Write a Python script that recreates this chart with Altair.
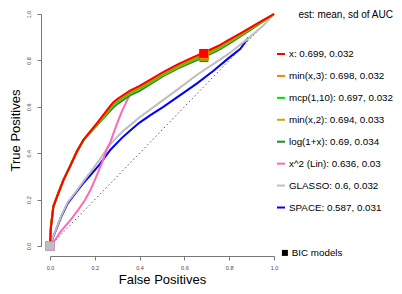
import altair as alt
import pandas as pd

# ---- data ----
methods = [
    "x: 0.699, 0.032",
    "min(x,3): 0.698, 0.032",
    "mcp(1,10): 0.697, 0.032",
    "min(x,2): 0.694, 0.033",
    "log(1+x): 0.69, 0.034",
    "x^2 (Lin): 0.636, 0.03",
    "GLASSO: 0.6, 0.032",
    "SPACE: 0.587, 0.031",
]
colors = ["#FF0000", "#FF8000", "#00E000", "#CDAA00", "#228B22", "#FF69B4", "#BEBEBE", "#0000FF"]

# shared FPR grid for the five top curves
fpr_top = [0, 0.004, 0.015, 0.037, 0.06, 0.089, 0.119, 0.149, 0.179, 0.21, 0.238, 0.262, 0.283, 0.305,
           0.327, 0.357, 0.40, 0.45, 0.505, 0.57, 0.63, 0.69, 0.75, 0.8, 0.85, 0.9, 0.95, 1.0]
tpr_x = [0, 0.08, 0.17, 0.227, 0.284, 0.342, 0.405, 0.457, 0.493, 0.53, 0.565, 0.595, 0.62, 0.637,
         0.651, 0.67, 0.69, 0.718, 0.75, 0.783, 0.81, 0.835, 0.862, 0.89, 0.917, 0.945, 0.972, 1.0]
tpr_min3 = [0, 0.08, 0.17, 0.227, 0.284, 0.342, 0.405, 0.457, 0.492, 0.528, 0.562, 0.591, 0.616, 0.633,
            0.647, 0.666, 0.686, 0.714, 0.746, 0.779, 0.806, 0.831, 0.858, 0.886, 0.914, 0.943, 0.971, 1.0]
tpr_mcp = [0, 0.08, 0.17, 0.227, 0.284, 0.342, 0.405, 0.457, 0.491, 0.526, 0.558, 0.586, 0.611, 0.628,
           0.642, 0.661, 0.681, 0.709, 0.741, 0.774, 0.801, 0.826, 0.854, 0.883, 0.911, 0.941, 0.970, 1.0]
tpr_min2 = [0, 0.08, 0.17, 0.227, 0.284, 0.342, 0.405, 0.456, 0.49, 0.524, 0.555, 0.582, 0.607, 0.624,
            0.638, 0.657, 0.677, 0.705, 0.737, 0.77, 0.797, 0.822, 0.85, 0.879, 0.908, 0.939, 0.969, 1.0]
tpr_log = [0, 0.082, 0.172, 0.229, 0.286, 0.344, 0.406, 0.456, 0.488, 0.52, 0.55, 0.575, 0.598, 0.615,
           0.63, 0.649, 0.669, 0.699, 0.732, 0.765, 0.791, 0.815, 0.843, 0.872, 0.903, 0.935, 0.967, 1.0]

fpr_sq = [0, 0.022, 0.05, 0.09, 0.125, 0.156, 0.18, 0.2, 0.22, 0.237, 0.254, 0.268, 0.285, 0.30, 0.32, 0.34, 0.357]
tpr_sq = [0, 0.026, 0.065, 0.11, 0.155, 0.198, 0.24, 0.284, 0.33, 0.37, 0.42, 0.444, 0.49, 0.53, 0.578, 0.62, 0.652]

fpr_gl = [0, 0.01, 0.03, 0.05, 0.08, 0.12, 0.15, 0.19, 0.22, 0.27, 0.32, 0.357, 0.40, 0.45, 0.506, 0.57,
          0.655, 0.73, 0.80, 0.885, 0.95, 1.0]
tpr_gl = [0, 0.03, 0.08, 0.13, 0.19, 0.24, 0.28, 0.33, 0.37, 0.44, 0.49, 0.52, 0.555, 0.59, 0.63, 0.675,
          0.737, 0.785, 0.83, 0.895, 0.948, 1.0]

fpr_sp = [0, 0.01, 0.03, 0.05, 0.08, 0.12, 0.15, 0.18, 0.22, 0.27, 0.32, 0.357, 0.40, 0.45, 0.506, 0.57,
          0.655, 0.73, 0.80, 0.85, 0.885]
tpr_sp = [0, 0.028, 0.077, 0.126, 0.185, 0.235, 0.272, 0.305, 0.35, 0.415, 0.465, 0.497, 0.532, 0.565,
          0.6, 0.643, 0.7, 0.755, 0.812, 0.85, 0.898]

# BIC-selected models (drawn bottom to top)
bic_method = ["SPACE: 0.587, 0.031", "x^2 (Lin): 0.636, 0.03", "GLASSO: 0.6, 0.032",
              "log(1+x): 0.69, 0.034", "min(x,2): 0.694, 0.033", "mcp(1,10): 0.697, 0.032",
              "min(x,3): 0.698, 0.032", "x: 0.699, 0.032"]
bic_fpr = [0, 0, 0, 0.687, 0.688, 0.688, 0.689, 0.686]
bic_tpr = [0, 0, 0, 0.812, 0.818, 0.822, 0.826, 0.83]

diag_fpr = [0, 1]
diag_tpr = [0, 1]

legend_title = "est: mean, sd of AUC"

# ---- build tables ----
curves = {
    methods[0]: (fpr_top, tpr_x),
    methods[1]: (fpr_top, tpr_min3),
    methods[2]: (fpr_top, tpr_mcp),
    methods[3]: (fpr_top, tpr_min2),
    methods[4]: (fpr_top, tpr_log),
    methods[5]: (fpr_sq, tpr_sq),
    methods[6]: (fpr_gl, tpr_gl),
    methods[7]: (fpr_sp, tpr_sp),
}
rows = []
for m, (xs, ys) in curves.items():
    for i, (a, b) in enumerate(zip(xs, ys)):
        rows.append({"method": m, "fpr": a, "tpr": b, "ord": i})
df = pd.DataFrame(rows)

col_of = dict(zip(methods, colors))
bic_df = pd.DataFrame({
    "method": bic_method, "fpr": bic_fpr, "tpr": bic_tpr,
    "col": [col_of[m] for m in bic_method], "bic": ["BIC models"] * len(bic_method),
})
diag_df = pd.DataFrame({"fpr": diag_fpr, "tpr": diag_tpr})

FONT = "Liberation Sans"

x_enc = alt.X("fpr:Q", scale=alt.Scale(domain=[0, 1], nice=False),
              axis=alt.Axis(title="False Positives", values=[0, 0.2, 0.4, 0.6, 0.8, 1.0], format=".1f",
                            offset=10, grid=False, domainColor="#777", tickColor="#777", tickSize=4,
                            labelFontSize=5.5, labelColor="#444", labelPadding=5, labelFlush=False,
                            labelOverlap=False, titleFontSize=13, titleFontWeight="normal",
                            titleColor="black", titleBaseline="alphabetic", titleAlign="center",
                            titleX=112, titleY=27.3))
y_enc = alt.Y("tpr:Q", scale=alt.Scale(domain=[0, 1], nice=False),
              axis=alt.Axis(title="True Positives", values=[0, 0.2, 0.4, 0.6, 0.8, 1.0], format=".1f",
                            offset=9, grid=False, domainColor="#777", tickColor="#777", tickSize=4,
                            labelFontSize=5.5, labelColor="#444", labelPadding=6, labelFlush=False,
                            labelOverlap=False, labelAngle=270, labelAlign="center",
                            labelBaseline="bottom", titleFontSize=13, titleFontWeight="normal",
                            titleColor="black", titleAngle=270, titleBaseline="alphabetic",
                            titleAlign="center", titleX=-22, titleY=116))

color_legend = alt.Legend(orient="none", legendX=226, legendY=-3.6, title=legend_title,
                          titleAnchor="end", titleFontSize=10, titleFontWeight="normal",
                          titleColor="black", titleFont=FONT, titlePadding=28.6,
                          symbolType="stroke", symbolSize=64, symbolStrokeWidth=2,
                          labelFontSize=9.8, labelOffset=3, rowPadding=11.93, padding=0,
                          labelLimit=300, labelColor="black", labelFont=FONT, symbolOpacity=1)
color_enc = alt.Color("method:N", scale=alt.Scale(domain=methods, range=colors),
                      sort=methods, legend=color_legend)

layers = []
layers.append(alt.Chart(diag_df).mark_line(color="#555", strokeWidth=1, strokeDash=[1.5, 2.5])
              .encode(x=x_enc, y=y_enc))
for m in ["SPACE: 0.587, 0.031", "GLASSO: 0.6, 0.032", "x^2 (Lin): 0.636, 0.03",
          "log(1+x): 0.69, 0.034", "min(x,2): 0.694, 0.033", "mcp(1,10): 0.697, 0.032",
          "min(x,3): 0.698, 0.032", "x: 0.699, 0.032"]:
    layers.append(alt.Chart(df[df["method"] == m]).mark_line(strokeWidth=2)
                  .encode(x=x_enc, y=y_enc, color=color_enc, order="ord:Q"))

layers.append(alt.Chart(bic_df).mark_point(filled=True, size=81, opacity=1, strokeWidth=0)
              .encode(x=x_enc, y=y_enc,
                      fill=alt.Fill("col:N", scale=None),
                      shape=alt.Shape("bic:N", scale=alt.Scale(range=["square"]),
                                      legend=alt.Legend(orient="none", legendX=230, legendY=234,
                                                        title=None, symbolSize=36,
                                                        symbolFillColor="black",
                                                        symbolStrokeColor="black",
                                                        symbolStrokeWidth=0,
                                                        labelFontSize=9.8, labelOffset=2,
                                                        padding=0, labelColor="black",
                                                        labelFont=FONT))))

chart = alt.layer(*layers).properties(
    width=224, height=232,
    padding={"left": 42, "top": 6, "right": 120, "bottom": 40},
    autosize=alt.AutoSizeParams(type="none"),
).configure(font=FONT).configure_view(stroke=None)

chart.save("out.html", embed_options={"renderer": "svg", "actions": False})
